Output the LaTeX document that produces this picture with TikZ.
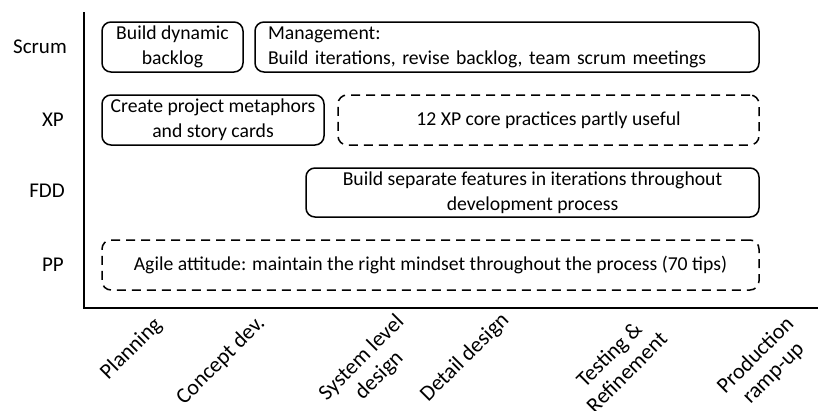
\documentclass[tikz,border=0pt]{standalone}
\usepackage{fontspec}
\setmainfont{Carlito}
\begin{document}
\begin{tikzpicture}[x=1pt,y=-1pt,
  lab/.style={font=\fontsize{21}{24}\selectfont},
  box/.style={draw,line width=1.5pt,rounded corners=9pt,font=\fontsize{19.7}{25}\selectfont,inner sep=0pt,align=center},
  dbox/.style={box,dash pattern=on 9pt off 6pt},
  rowlab/.style={lab,anchor=east,inner sep=0pt},
  phase/.style={rotate=45,anchor=north east,inner sep=0pt,align=center,font=\fontsize{22}{25}\selectfont},
  axis/.style={line width=2pt}]
\useasboundingbox (0,0) rectangle (818,410);
\coordinate (top) at (84,12);
\coordinate (orig) at (84,308);
\coordinate (right) at (818,308);
\draw[axis] (top) -- (orig) -- (right);
% row labels
\node[rowlab] (scrum) at (67,47) {Scrum};
\node[rowlab] (xp) at (64,120) {XP};
\node[rowlab] (fdd) at (65,191) {FDD};
\node[rowlab] (pp) at (64,265) {PP};
% boxes
\node[box,minimum width=141pt,minimum height=50pt] (s1) at (172.5,47) {Build dynamic\\backlog};
\node[box,minimum width=504pt,minimum height=50pt,text width=478pt,inner xsep=13pt,align=left] (s2) at (507,47) {Management:\\Build iterations, revise backlog, team scrum meetings};
\node[box,minimum width=222pt,minimum height=50pt] (x1) at (213,120) {Create project metaphors\\and story cards};
\node[dbox,minimum width=421pt,minimum height=50pt] (x2) at (548.5,120) {12 XP core practices partly useful};
\node[box,minimum width=453pt,minimum height=49pt] (f1) at (532.5,192.5) {Build separate features in iterations throughout\\development process};
\node[dbox,minimum width=657pt,minimum height=50pt] (p1) at (430.5,265) {Agile attitude: maintain the right mindset throughout the process (70 tips)};
% phase labels
\node[phase] (ph1) at (152,315) {Planning};
\node[phase] (ph2) at (255,313) {Concept dev.};
\node[phase] (ph3) at (394,312) {System level\\design};
\node[phase] (ph4) at (499,310) {Detail design};
\node[phase] (ph5) at (640,312) {Testing \&\\Refinement};
\node[phase] (ph6) at (784,314) {Production\\ramp-up};
\end{tikzpicture}
\end{document}
